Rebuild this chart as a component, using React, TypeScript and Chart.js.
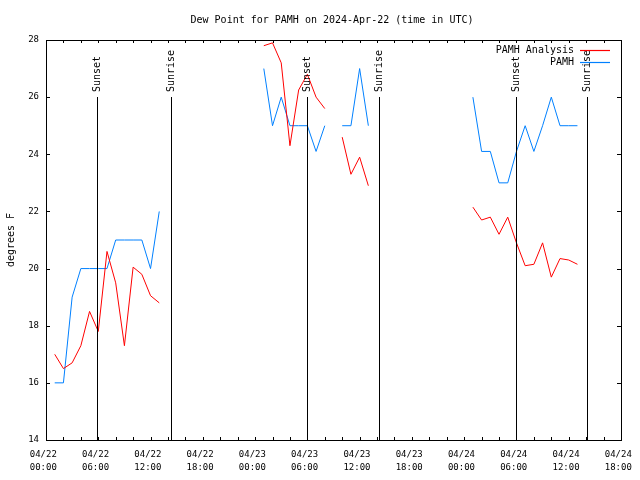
import React, { useEffect, useRef } from "react";
import { Chart, registerables } from "chart.js";

Chart.register(...registerables);

const TITLE = "Dew Point for PAMH on 2024-Apr-22 (time in UTC)";
const Y_TITLE = "degrees F";
const FONT = "DejaVu Sans Mono";

// hours since 2024-04-22 00:00 UTC (null values = gaps)
const HOURS = [
  1, 2, 3, 4, 5, 6, 7, 8, 9, 10, 11, 12, 13, 19,
  25, 26, 27, 28, 29, 30, 31, 32, 33,
  34, 35, 36, 37, 43,
  49, 50, 51, 52, 53, 54, 55, 56, 57, 58, 59, 60, 61,
];

const ANALYSIS = [
  17.0, 16.5, 16.7, 17.3, 18.5, 17.8, 20.6, 19.5, 17.3, 20.05, 19.8, 19.05, 18.8, null,
  27.8, 27.9, 27.2, 24.3, 26.25, 26.8, 26.0, 25.6, null,
  24.6, 23.3, 23.9, 22.9, null,
  22.15, 21.7, 21.8, 21.2, 21.8, 20.9, 20.1, 20.15, 20.9, 19.7, 20.35, 20.3, 20.15,
];

const OBSERVED = [
  16.0, 16.0, 19.0, 20.0, 20.0, 20.0, 20.0, 21.0, 21.0, 21.0, 21.0, 20.0, 22.0, null,
  27.0, 25.0, 26.0, 25.0, 25.0, 25.0, 24.1, 25.0, null,
  25.0, 25.0, 27.0, 25.0, null,
  26.0, 24.1, 24.1, 23.0, 23.0, 24.1, 25.0, 24.1, 25.0, 26.0, 25.0, 25.0, 25.0,
];

const SUN_EVENTS = [
  { hour: 5.88, label: "Sunset" },
  { hour: 14.32, label: "Sunrise" },
  { hour: 29.98, label: "Sunset" },
  { hour: 38.2, label: "Sunrise" },
  { hour: 53.9, label: "Sunset" },
  { hour: 62.15, label: "Sunrise" },
];

const X_DATES = ["04/22", "04/22", "04/22", "04/22", "04/23", "04/23", "04/23", "04/23", "04/24", "04/24", "04/24", "04/24"];
const X_TIMES = ["00:00", "06:00", "12:00", "18:00", "00:00", "06:00", "12:00", "18:00", "00:00", "06:00", "12:00", "18:00"];

const SERIES_NAMES = ["PAMH Analysis", "PAMH"];
const SERIES_COLORS = ["rgb(255,0,0)", "rgb(0,128,255)"];

const overlay = {
  id: "overlay",
  afterDraw(chart: any) {
    const ctx = chart.ctx;
    const { left, right, top, bottom } = chart.chartArea;
    const xs = chart.scales.x;
    const ys = chart.scales.y;
    ctx.save();
    ctx.strokeStyle = "#000";
    ctx.lineWidth = 1;
    // frame
    ctx.strokeRect(Math.round(left) + 0.5, Math.round(top) + 0.5, Math.round(right - left), Math.round(bottom - top));
    // ticks
    ctx.beginPath();
    for (let h = 2; h < 66; h += 2) {
      const px = Math.round(xs.getPixelForValue(h)) + 0.5;
      ctx.moveTo(px, bottom);
      ctx.lineTo(px, bottom - 3);
      ctx.moveTo(px, top);
      ctx.lineTo(px, top + 3);
    }
    for (let v = 16; v < 28; v += 2) {
      const py = Math.round(ys.getPixelForValue(v)) + 0.5;
      ctx.moveTo(left, py);
      ctx.lineTo(left + 4, py);
      ctx.moveTo(right, py);
      ctx.lineTo(right - 4, py);
    }
    ctx.stroke();
    // sun events
    ctx.font = `10px "${FONT}"`;
    ctx.fillStyle = "#000";
    for (const ev of SUN_EVENTS) {
      const px = Math.round(xs.getPixelForValue(ev.hour)) + 0.5;
      ctx.beginPath();
      ctx.moveTo(px, bottom);
      ctx.lineTo(px, top + 57);
      ctx.stroke();
      ctx.save();
      ctx.translate(px, top + 52);
      ctx.rotate(-Math.PI / 2);
      ctx.textAlign = "left";
      ctx.textBaseline = "middle";
      ctx.fillText(ev.label, 0, 0);
      ctx.restore();
    }
    // legend
    ctx.textAlign = "right";
    ctx.textBaseline = "middle";
    for (let i = 0; i < SERIES_NAMES.length; i++) {
      const y = top + 10 + i * 12;
      ctx.fillStyle = "#000";
      ctx.fillText(SERIES_NAMES[i], right - 47, y);
      ctx.beginPath();
      ctx.strokeStyle = SERIES_COLORS[i];
      ctx.lineWidth = 1.2;
      ctx.moveTo(Math.round(right - 41), Math.round(y) + 0.5);
      ctx.lineTo(Math.round(right - 11), Math.round(y) + 0.5);
      ctx.stroke();
    }
    // title
    ctx.fillStyle = "#000";
    ctx.textAlign = "center";
    ctx.textBaseline = "middle";
    ctx.fillText(TITLE, 332, 20);
    ctx.restore();
  },
};

export default function App() {
  const ref = useRef<HTMLCanvasElement>(null);
  useEffect(() => {
    if (!ref.current) return;
    const mk = (vals: (number | null)[]) => HOURS.map((h, i) => ({ x: h, y: vals[i] }));
    const chart = new Chart(ref.current, {
      type: "line",
      data: {
        datasets: [
          {
            label: SERIES_NAMES[0],
            data: mk(ANALYSIS),
            borderColor: SERIES_COLORS[0],
            borderWidth: 1,
            pointRadius: 0,
            tension: 0,
            spanGaps: false,
          },
          {
            label: SERIES_NAMES[1],
            data: mk(OBSERVED),
            borderColor: SERIES_COLORS[1],
            borderWidth: 1,
            pointRadius: 0,
            tension: 0,
            spanGaps: false,
          },
        ],
      },
      options: {
        animation: false,
        responsive: false,
        maintainAspectRatio: false,
        layout: { padding: { top: 40, right: 19, left: 0, bottom: 0 } },
        plugins: { legend: { display: false }, title: { display: false }, tooltip: { enabled: false } },
        scales: {
          x: {
            type: "linear",
            min: 0,
            max: 66,
            grid: { display: false, drawTicks: false },
            border: { display: false },
            ticks: {
              stepSize: 6,
              autoSkip: false,
              maxRotation: 0,
              minRotation: 0,
              padding: 8,
              color: "#000",
              font: { family: FONT, size: 9, lineHeight: 1.48 },
              callback: (v: any) => {
                const i = Math.round(Number(v) / 6);
                return [X_DATES[i] + " ", X_TIMES[i] + " "];
              },
            },
            afterFit: (s: any) => {
              s.height = 40;
              s.paddingLeft = 0;
              s.paddingRight = 0;
            },
          },
          y: {
            min: 14,
            max: 28,
            grid: { display: false, drawTicks: false },
            border: { display: false },
            ticks: {
              stepSize: 2,
              padding: 7,
              color: "#000",
              font: { family: FONT, size: 9 },
            },
            title: {
              display: true,
              text: Y_TITLE,
              color: "#000",
              font: { family: FONT, size: 10 },
              padding: { top: 5, bottom: 0 },
            },
            afterFit: (s: any) => {
              s.width = 46;
              s.paddingTop = 0;
              s.paddingBottom = 0;
            },
          },
        },
      },
      plugins: [overlay],
    });
    return () => chart.destroy();
  }, []);
  return (
    <div style={{ position: "absolute", left: 0, top: 0, width: 640, height: 480, background: "#fff" }}>
      <canvas ref={ref} width={640} height={480} style={{ width: 640, height: 480 }} />
    </div>
  );
}
